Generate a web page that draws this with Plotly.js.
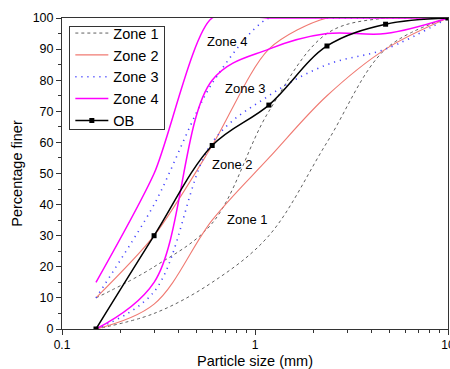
<!DOCTYPE html>
<html>
<head>
<meta charset="utf-8">
<script src="https://cdn.plot.ly/plotly-3.0.1.min.js"></script>
<style>html,body{margin:0;padding:0;background:#fff;}#chart{width:450px;height:369px;}</style>
</head>
<body>
<div id="chart"></div>
<script>
// Sieve sizes (mm)
const sieves = [0.15, 0.3, 0.6, 1.18, 2.36, 4.75, 10];
// Grading zone limits (% finer)
const zone1Lower = [0, 5, 15, 30, 60, 90, 100];
const zone1Upper = [10, 20, 34, 70, 95, 100, 100];
const zone2Lower = [0, 8, 35, 55, 75, 90, 100];
const zone2Upper = [10, 30, 59, 90, 100, 100, 100];
const zone3Lower = [0, 12, 60, 75, 85, 90, 100];
const zone3Upper = [10, 40, 79, 100, 100, 100, 100];
const zone4Lower = [0, 15, 80, 90, 95, 95, 100];
const zone4Upper = [15, 50, 100, 100, 100, 100, 100];
// OB sample
const obValues = [0, 30, 59, 72, 91, 98, 100];

const zoneNames = ['Zone 1', 'Zone 2', 'Zone 3', 'Zone 4'];
const xTickVals = [0.1, 1, 10];
const xTickText = ['0.1', '1', '10'];

const FONT = 'Liberation Sans, Arial, sans-serif';

const zoneStyles = [
  {color: '#606060', width: 1, dash: '3px,3px'},
  {color: '#F07A72', width: 1.1, dash: 'solid'},
  {color: '#4646ff', width: 1.6, dash: '1.2px,4.8px'},
  {color: '#FF00FF', width: 1.5, dash: 'solid'}
];
const zoneData = [
  [zone1Lower, zone1Upper],
  [zone2Lower, zone2Upper],
  [zone3Lower, zone3Upper],
  [zone4Lower, zone4Upper]
];
const smooth = [[1, 1], [1, 0.8], [1, 0.8], [1, 0.7]];

const traces = [];
zoneData.forEach((pair, i) => {
  pair.forEach((vals, j) => {
    traces.push({
      x: sieves, y: vals, type: 'scatter', mode: 'lines',
      name: zoneNames[i], legendgroup: zoneNames[i], showlegend: j === 0,
      line: {color: zoneStyles[i].color, width: zoneStyles[i].width, dash: zoneStyles[i].dash, shape: 'spline', smoothing: smooth[i][j]}
    });
  });
});
traces.push({
  x: sieves, y: obValues, type: 'scatter', mode: 'lines+markers', name: 'OB',
  line: {color: '#000', width: 1.5, shape: 'spline', smoothing: 1},
  marker: {symbol: 'square', size: 5, color: '#000'}
});

const minorX = [0.2,0.3,0.4,0.5,0.6,0.7,0.8,0.9,2,3,4,5,6,7,8,9];

const layout = {
  width: 450, height: 369,
  margin: {l: 62, r: 2, t: 18, b: 40},
  paper_bgcolor: '#fff', plot_bgcolor: '#fff',
  font: {family: FONT, color: '#000', size: 13},
  showlegend: true,
  legend: {
    x: 0.019, y: 1.006, xanchor: 'left', yanchor: 'top',
    bgcolor: '#fff', bordercolor: '#333', borderwidth: 1,
    font: {family: FONT, size: 14.5, color: '#000'},
    tracegroupgap: 0, itemwidth: 33
  },
  xaxis: {
    type: 'log', range: [-1, 1],
    tickmode: 'array', tickvals: xTickVals, ticktext: xTickText,
    ticklabeloverflow: 'allow',
    ticks: 'outside', ticklen: 5, tickwidth: 1, tickcolor: '#333',
    showline: true, linecolor: '#333', linewidth: 1, mirror: true,
    showgrid: false, zeroline: false,
    tickfont: {family: FONT, size: 12, color: '#000'},
    minor: {tickmode: 'array', tickvals: minorX, ticks: 'outside', ticklen: 3, tickcolor: '#333', showgrid: false},
    title: {text: 'Particle size (mm)', font: {family: FONT, size: 14.5, color: '#000'}}
  },
  yaxis: {
    range: [0, 100], dtick: 10,
    ticks: 'outside', ticklen: 5, tickwidth: 1, tickcolor: '#333',
    showline: true, linecolor: '#333', linewidth: 1, mirror: true,
    showgrid: false, zeroline: false,
    tickfont: {family: FONT, size: 12.5, color: '#000'},
    minor: {dtick: 5, ticks: 'outside', ticklen: 3, tickcolor: '#333', showgrid: false},
    title: {text: 'Percentage finer', font: {family: FONT, size: 14.5, color: '#000'}, standoff: 6}
  },
  annotations: [
    {x: -0.147, y: 92.4, xref: 'x', yref: 'y', text: 'Zone 4', showarrow: false, font: {family: FONT, size: 13, color: '#000'}},
    {x: -0.053, y: 77.3, xref: 'x', yref: 'y', text: 'Zone 3', showarrow: false, font: {family: FONT, size: 13, color: '#000'}},
    {x: -0.121, y: 52.8, xref: 'x', yref: 'y', text: 'Zone 2', showarrow: false, font: {family: FONT, size: 13, color: '#000'}},
    {x: -0.040, y: 35.1, xref: 'x', yref: 'y', text: 'Zone 1', showarrow: false, font: {family: FONT, size: 13, color: '#000'}}
  ]
};

const gd = document.getElementById('chart');
Plotly.newPlot(gd, traces, layout, {displayModeBar: false, staticPlot: true}).then(() => {
  // tighten legend box padding to match the reference frame
  const bg = gd.querySelector('.legend rect.bg');
  if (bg) {
    const host = gd.getBoundingClientRect();
    const r = bg.getBoundingClientRect();
    const top = 26, bottom = 129;
    const y0 = parseFloat(bg.getAttribute('y')) || 0;
    bg.setAttribute('y', y0 + (top - (r.top - host.top)));
    bg.setAttribute('height', bottom - top);
  }
});
</script>
</body>
</html>
